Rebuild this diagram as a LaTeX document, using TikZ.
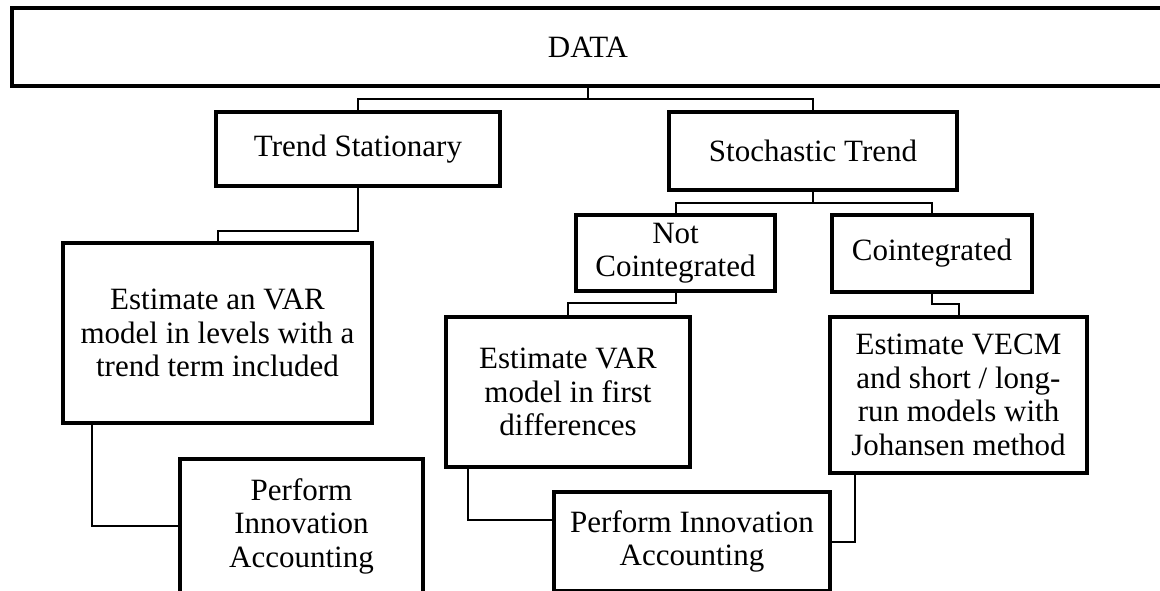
\documentclass[tikz,border=0pt]{standalone}
\usepackage{fontspec}
\setmainfont{Liberation Serif}
\begin{document}
\begin{tikzpicture}[x=1pt,y=-1pt,
  box/.style={draw,line width=3.3pt,rectangle,inner sep=0pt,align=center,
    font=\fontsize{31}{33.5}\selectfont},
  link/.style={draw,line width=2pt}]
\useasboundingbox (0,0) rectangle (1160,590);
% nodes
\node[box,minimum width=1152pt,minimum height=78pt] (data) at (588,47) {DATA};
\node[box,minimum width=284pt,minimum height=74pt] (ts) at (358,149) {Trend Stationary};
\node[box,minimum width=288pt,minimum height=78pt] (st) at (813,151) {Stochastic Trend};
\node[box,minimum width=309pt,minimum height=180pt] (est1) at (217.5,333) {Estimate an VAR\\model in levels with a\\trend term included};
\node[box,minimum width=243pt,minimum height=134pt] (perf1) at (301.5,526) {Perform\\Innovation\\Accounting};
\node[box,minimum width=199pt,minimum height=76pt] (nc) at (675.5,253) {Not\\Cointegrated};
\node[box,minimum width=200pt,minimum height=77pt] (coint) at (932,253.5) {Cointegrated};
\node[box,minimum width=244pt,minimum height=150pt] (est2) at (568,392) {Estimate VAR\\model in first\\differences};
\node[box,minimum width=257pt,minimum height=156pt] (est3) at (958.5,395) {Estimate VECM\\and short / long-\\run models with\\Johansen method};
\node[box,minimum width=276pt,minimum height=99pt] (perf2) at (692,541.5) {Perform Innovation\\Accounting};
% connectors
\coordinate (j1) at (588,99);
\draw[link] (data.south) -- (j1);
\draw[link] (j1) -| (ts.north);
\draw[link] (j1) -| (st.north);
\coordinate (j2) at (358,231);
\draw[link] (ts.south) -- (j2) -| (est1.north);
\draw[link] ([xshift=31pt]est1.south west) |- (perf1.west);
\coordinate (j3) at (813,203);
\draw[link] (st.south) -- (j3);
\draw[link] (j3) -| (nc.north);
\draw[link] (j3) -| (coint.north);
\coordinate (j4) at (675.5,303);
\draw[link] (nc.south) -- (j4) -| (est2.north);
\coordinate (j5) at (932,304);
\draw[link] (coint.south) -- (j5) -| (est3.north);
\draw[link] ([xshift=24pt]est2.south west) |- ([yshift=21.5pt]perf2.west);
\draw[link] ([xshift=27pt]est3.south west) |- (perf2.east);
\end{tikzpicture}
\end{document}
